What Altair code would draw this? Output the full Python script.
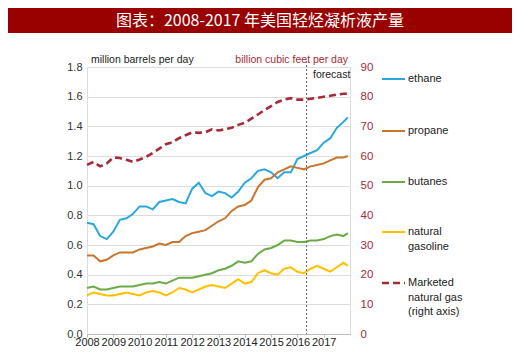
import altair as alt
import pandas as pd

# ---- data ----
months = [f"{y}-{m:02d}" for y in range(2008, 2018) for m in (1, 4, 7, 10)] + ["2017-12"]

ethane = [0.75, 0.74, 0.66, 0.64, 0.69, 0.77, 0.78, 0.81, 0.86, 0.86,
          0.84, 0.89, 0.90, 0.91, 0.89, 0.88, 0.98, 1.02, 0.95, 0.93,
          0.96, 0.95, 0.92, 0.96, 1.02, 1.05, 1.10, 1.11, 1.09, 1.05,
          1.09, 1.09, 1.18, 1.20, 1.22, 1.24, 1.29, 1.32, 1.39, 1.43, 1.46]
propane = [0.53, 0.53, 0.49, 0.50, 0.53, 0.55, 0.55, 0.55, 0.57, 0.58,
           0.59, 0.61, 0.60, 0.62, 0.62, 0.66, 0.68, 0.69, 0.70, 0.73,
           0.76, 0.78, 0.83, 0.86, 0.87, 0.90, 0.99, 1.04, 1.05, 1.09,
           1.11, 1.13, 1.12, 1.11, 1.13, 1.14, 1.15, 1.17, 1.19, 1.19, 1.20]
butanes = [0.31, 0.32, 0.30, 0.30, 0.31, 0.32, 0.32, 0.32, 0.33, 0.34,
           0.34, 0.35, 0.34, 0.36, 0.38, 0.38, 0.38, 0.39, 0.40, 0.41,
           0.43, 0.44, 0.46, 0.49, 0.48, 0.49, 0.54, 0.57, 0.58, 0.60,
           0.63, 0.63, 0.62, 0.62, 0.63, 0.63, 0.64, 0.66, 0.67, 0.66, 0.68]
gasoline = [0.26, 0.28, 0.27, 0.26, 0.26, 0.27, 0.28, 0.27, 0.26, 0.28,
            0.29, 0.28, 0.26, 0.28, 0.31, 0.30, 0.28, 0.30, 0.32, 0.33,
            0.32, 0.31, 0.34, 0.37, 0.34, 0.35, 0.41, 0.43, 0.41, 0.40,
            0.44, 0.45, 0.42, 0.41, 0.44, 0.46, 0.44, 0.42, 0.45, 0.48, 0.46]
gas_bcfd = [57.0, 58.0, 56.5, 57.5, 59.5, 59.3, 58.7, 58.0, 58.8, 59.7,
            61.0, 62.5, 64.0, 64.6, 66.0, 67.0, 68.0, 67.8, 68.0, 69.0,
            68.6, 69.0, 69.5, 70.5, 71.2, 72.6, 74.0, 75.5, 76.8, 78.2,
            79.0, 79.5, 79.0, 79.0, 79.3, 79.6, 80.0, 80.3, 80.7, 81.0, 81.0]

series_names = ["ethane", "propane", "butanes", "natural gasoline"]
series_colors = ["#29a8e0", "#c8762f", "#6aab45", "#ffc000"]
gas_color = "#a62a37"
forecast_start = [2016.35]
left_ticks = [0.0, 0.2, 0.4, 0.6, 0.8, 1.0, 1.2, 1.4, 1.6, 1.8]
right_ticks = [0, 10, 20, 30, 40, 50, 60, 70, 80, 90]
title_text = "图表：2008-2017 年美国轻烃凝析液产量"

# ---- tables ----
t = [int(s[:4]) + (int(s[5:]) - 1) / 12 for s in months]
wide = pd.DataFrame({"t": t, "ethane": ethane, "propane": propane,
                     "butanes": butanes, "natural gasoline": gasoline})
long = wide.melt("t", var_name="series", value_name="v")
gas_df = pd.DataFrame({"t": t, "gas": gas_bcfd})
fc_df = pd.DataFrame({"t": forecast_start})

W, H = 263, 267
FONT = "Liberation Sans"
xscale = alt.Scale(domain=[2008, 2018], nice=False, zero=False)
x_ticks = [2008 + i * 0.25 for i in range(40)]

lines = alt.Chart(long).mark_line(strokeWidth=2).encode(
    x=alt.X("t:Q", scale=xscale,
            axis=alt.Axis(values=x_ticks, format="d",
                          labelExpr="datum.value % 1 == 0 ? datum.label : ''",
                          title=None, grid=False, domainColor="#bdbdbd",
                          tickColor="#bdbdbd", tickSize=3, labelPadding=-1,
                          labelFontSize=11, labelColor="#222", labelFont=FONT,
                          labelFlush=False, labelOverlap=False)),
    y=alt.Y("v:Q", scale=alt.Scale(domain=[0, 1.8], nice=False),
            axis=alt.Axis(values=left_ticks, format=".1f", title=None,
                          domain=False, ticks=False, gridColor="#dcdcdc",
                          labelPadding=5, labelFontSize=11, labelColor="#333",
                          labelFont=FONT)),
    color=alt.Color("series:N", scale=alt.Scale(domain=series_names, range=series_colors),
                    legend=None),
)

gas = alt.Chart(gas_df).mark_line(strokeWidth=2.6, strokeDash=[7, 4], color=gas_color).encode(
    x=alt.X("t:Q", scale=xscale, axis=None),
    y=alt.Y("gas:Q", scale=alt.Scale(domain=[0, 90], nice=False),
            axis=alt.Axis(orient="right", values=right_ticks, title=None, domain=False,
                          ticks=False, grid=False, labelPadding=10, labelFontSize=11.5,
                          labelColor=gas_color, labelFont=FONT)),
)

fc_rule = alt.Chart(fc_df).mark_rule(color="#666", strokeDash=[2, 2], strokeWidth=1).encode(
    x=alt.X("t:Q", scale=xscale, axis=None),
    y=alt.value(-6), y2=alt.value(H),
)

# ---- decorations (pixel positions in plot coordinates) ----
banner = pd.DataFrame({"x1": [-79], "x2": [425], "y1": [-59], "y2": [-34]})
banner_rect = alt.Chart(banner).mark_rect(color="#990000").encode(
    x=alt.X("x1:Q", scale=None, axis=None), x2="x2:Q",
    y=alt.Y("y1:Q", scale=None, axis=None), y2="y2:Q")

title_df = pd.DataFrame({"x": [173], "y": [-46.5], "text": [title_text]})
title_mark = alt.Chart(title_df).mark_text(
    font="Noto Sans CJK SC", fontSize=16, color="white", baseline="middle", align="center"
).encode(x=alt.X("x:Q", scale=None, axis=None), y=alt.Y("y:Q", scale=None, axis=None), text="text:N")

lab_df = pd.DataFrame({
    "x": [4, 261, 226],
    "y": [-7, -7, 8],
    "text": ["million barrels per day", "billion cubic feet per day", "forecast"],
    "c": ["#222", gas_color, "#222"],
    "a": ["left", "right", "left"],
})
lab_left = alt.Chart(lab_df[lab_df.a == "left"]).mark_text(
    font=FONT, fontSize=10.5, baseline="middle", align="left"
).encode(x=alt.X("x:Q", scale=None, axis=None), y=alt.Y("y:Q", scale=None, axis=None),
         text="text:N", color=alt.Color("c:N", scale=None))
lab_right = alt.Chart(lab_df[lab_df.a == "right"]).mark_text(
    font=FONT, fontSize=10.5, baseline="middle", align="right"
).encode(x=alt.X("x:Q", scale=None, axis=None), y=alt.Y("y:Q", scale=None, axis=None),
         text="text:N", color=alt.Color("c:N", scale=None))

leg_rules = pd.DataFrame({"x1": [295] * 4, "x2": [318] * 4, "y": [12, 64, 115, 165],
                          "c": series_colors})
leg_rule_mark = alt.Chart(leg_rules).mark_rule(strokeWidth=2).encode(
    x=alt.X("x1:Q", scale=None, axis=None), x2="x2:Q",
    y=alt.Y("y:Q", scale=None, axis=None), color=alt.Color("c:N", scale=None))
leg_gas = pd.DataFrame({"x1": [295], "x2": [318], "y": [216]})
leg_gas_mark = alt.Chart(leg_gas).mark_rule(strokeWidth=2.6, strokeDash=[7, 4], color=gas_color).encode(
    x=alt.X("x1:Q", scale=None, axis=None), x2="x2:Q",
    y=alt.Y("y:Q", scale=None, axis=None))
leg_text = pd.DataFrame({
    "x": [321] * 8,
    "y": [12, 64, 115, 165, 180, 216, 231, 245],
    "text": ["ethane", "propane", "butanes", "natural", "gasoline",
             "Marketed", "natural gas", "(right axis)"],
})
leg_text_mark = alt.Chart(leg_text).mark_text(
    font=FONT, fontSize=11, baseline="middle", align="left", color="#222"
).encode(x=alt.X("x:Q", scale=None, axis=None), y=alt.Y("y:Q", scale=None, axis=None), text="text:N")

chart = alt.layer(
    lines, gas, fc_rule, banner_rect, title_mark, lab_left, lab_right,
    leg_rule_mark, leg_gas_mark, leg_text_mark
).resolve_scale(x="independent", y="independent", color="independent").properties(
    width=W, height=H,
    autosize=alt.AutoSizeParams(type="none"),
    padding={"left": 79, "top": 59, "right": 162, "bottom": 13},
).configure_view(stroke=None).configure(background="white")

chart.save("out.html", embed_options={"renderer": "svg", "actions": False})
